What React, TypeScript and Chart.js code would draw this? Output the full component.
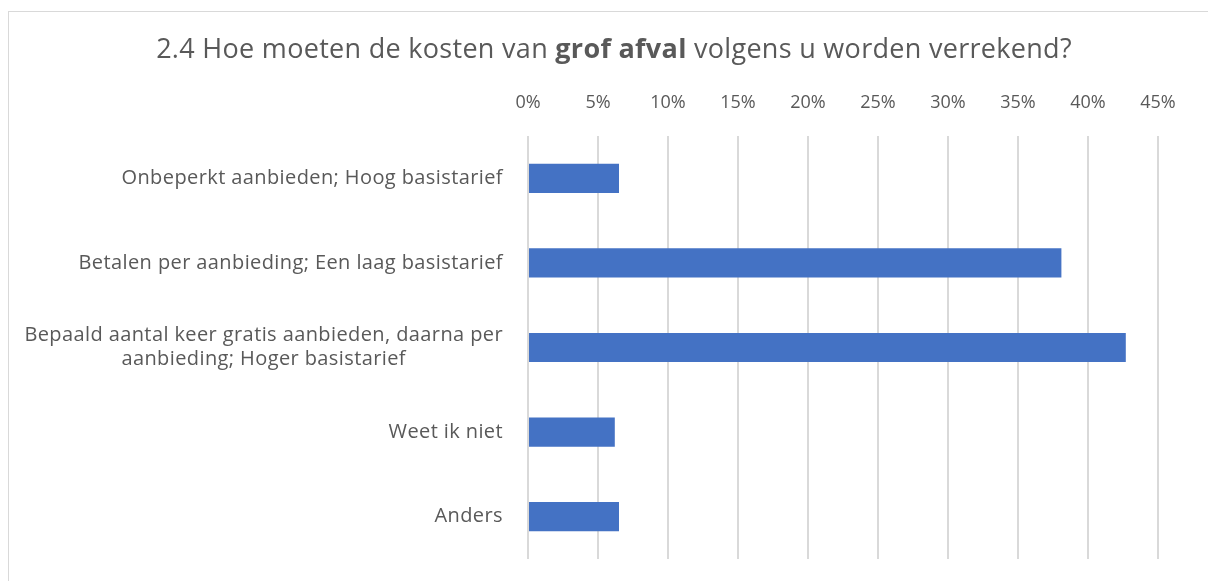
import React, { useEffect, useRef } from "react";
import { Chart, registerables } from "chart.js";

Chart.register(...registerables);

const categories: string[][] = [
  ["Onbeperkt aanbieden; Hoog basistarief"],
  ["Betalen per aanbieding; Een laag basistarief"],
  ["Bepaald aantal keer gratis aanbieden, daarna per", "aanbieding; Hoger basistarief"],
  ["Weet ik niet"],
  ["Anders"],
];
const values: number[] = [6.5, 38.1, 42.7, 6.2, 6.5];
const xTicks: number[] = [0, 5, 10, 15, 20, 25, 30, 35, 40, 45];

const titleParts: { text: string; bold: boolean }[] = [
  { text: "2.4 Hoe moeten de kosten van ", bold: false },
  { text: "grof afval", bold: true },
  { text: " volgens u worden verrekend?", bold: false },
];

const FONT = "'Open Sans', 'DejaVu Sans', sans-serif";
const TEXT_COLOR = "#595959";
const TICK_SIZE = 18;
const LABEL_SIZE = 20;
const TITLE_SIZE = 27;

const framePlugin = {
  id: "frame",
  beforeDraw(chart: any) {
    const ctx = chart.ctx;
    ctx.save();
    ctx.fillStyle = "#ffffff";
    ctx.fillRect(0, 0, chart.width, chart.height);
    ctx.strokeStyle = "#d9d9d9";
    ctx.lineWidth = 1;
    ctx.strokeRect(8.5, 11.5, chart.width + 20, chart.height + 20);
    ctx.restore();
  },
  afterDraw(chart: any) {
    const ctx = chart.ctx;
    ctx.save();
    // title with mixed weights
    ctx.letterSpacing = "0.3px";
    const fonts = titleParts.map(
      (p) => `${p.bold ? "bold " : ""}${TITLE_SIZE}px ${FONT}`
    );
    let total = 0;
    const widths = titleParts.map((p, i) => {
      ctx.font = fonts[i];
      const w = ctx.measureText(p.text).width;
      total += w;
      return w;
    });
    let x = 614 - total / 2;
    ctx.fillStyle = TEXT_COLOR;
    ctx.textBaseline = "middle";
    ctx.textAlign = "left";
    titleParts.forEach((p, i) => {
      ctx.font = fonts[i];
      ctx.fillText(p.text, x, 50);
      x += widths[i];
    });

    // y category labels: right aligned block, lines centered within block
    const yScale = chart.scales.y;
    const right = chart.chartArea.left - 25;
    ctx.letterSpacing = "0.4px";
    ctx.font = `${LABEL_SIZE}px ${FONT}`;
    const lineH = 24;
    categories.forEach((lines, i) => {
      const cy = yScale.getPixelForTick(i);
      const maxW = Math.max(...lines.map((l) => ctx.measureText(l).width));
      const cx = right - maxW / 2;
      ctx.textAlign = "center";
      lines.forEach((l, j) => {
        const ly = cy + (j - (lines.length - 1) / 2) * lineH;
        ctx.fillText(l, cx, ly);
      });
    });
    ctx.restore();
  },
};

export default function App() {
  const ref = useRef<HTMLCanvasElement>(null);
  useEffect(() => {
    if (!ref.current) return;
    const chart = new Chart(ref.current, {
      type: "bar",
      data: {
        labels: categories.map((c) => c.join(" ")),
        datasets: [
          {
            data: values,
            backgroundColor: "#4472C4",
            borderWidth: 0,
            categoryPercentage: 1,
            barPercentage: 0.345,
          },
        ],
      },
      options: {
        indexAxis: "y",
        animation: false,
        responsive: false,
        maintainAspectRatio: false,
        layout: { padding: { left: 0, right: 50, top: 0, bottom: 22 } },
        plugins: {
          legend: { display: false },
          title: { display: false },
          tooltip: { enabled: false },
        },
        scales: {
          x: {
            position: "top",
            min: 0,
            max: 45,
            afterBuildTicks: (scale: any) => {
              scale.ticks = xTicks.map((v) => ({ value: v }));
            },
            afterFit: (scale: any) => {
              scale.height = 136;
            },
            grid: { color: "#d9d9d9", lineWidth: 2, drawTicks: false },
            border: { display: false },
            ticks: {
              padding: 22,
              color: TEXT_COLOR,
              font: { family: FONT, size: TICK_SIZE },
              callback: (v: any) => `${v}%`,
            },
          },
          y: {
            afterFit: (scale: any) => {
              scale.width = 528;
            },
            grid: { display: false, drawTicks: false },
            border: { display: false },
            ticks: { display: false },
          },
        },
      },
      plugins: [framePlugin],
    });
    return () => chart.destroy();
  }, []);
  return (
    <div style={{ position: "absolute", left: 0, top: 0, width: 1208, height: 581 }}>
      <canvas ref={ref} width={1208} height={581} style={{ display: "block" }} />
    </div>
  );
}
